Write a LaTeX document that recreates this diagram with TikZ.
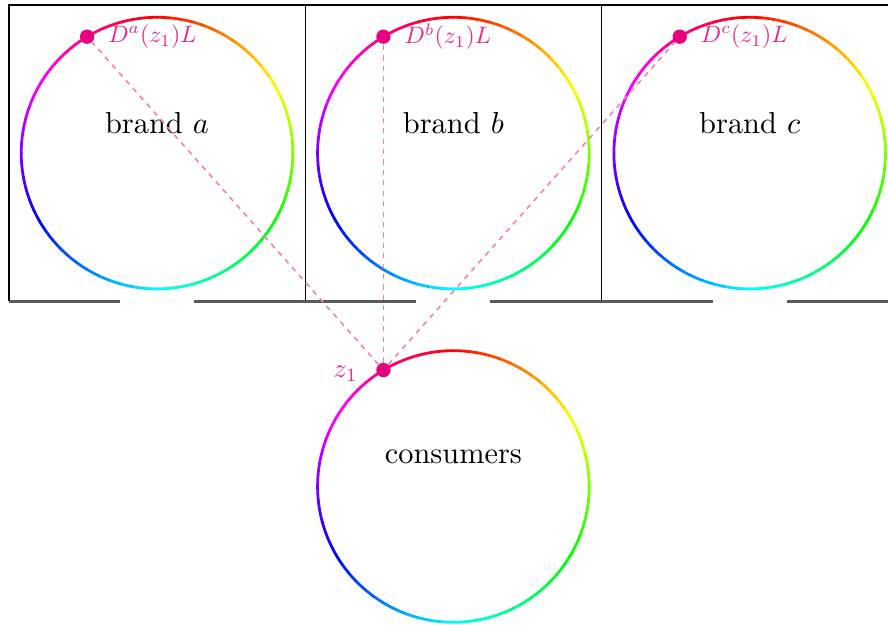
\documentclass[tikz,border=0pt]{standalone}
\usepackage{xcolor}
\usepackage{tikz}
\usetikzlibrary{positioning}
\definecolor{mkPink}{HTML}{E6007E}
\definecolor{mkLink}{HTML}{F27DBA}
\definecolor{mkWall}{HTML}{5A5A5A}
\tikzset{
  mk-dot/.style={circle, fill=mkPink, inner sep=0pt, minimum size=0.29cm},
  mk-tag/.style={text=mkPink!85!white, inner sep=1pt,
    scale=1.37, transform shape},
  mk-zed/.style={text=mkPink!85!white, inner sep=1pt,
    scale=1.55, transform shape},
  mk-title/.style={scale=1.75, transform shape},
  mk-link/.style={dashed, line width=0.9pt, draw=mkLink},
  mk-box/.style={draw=black, line width=0.8pt},
  mk-door/.style={draw=mkWall, line width=1.5pt},
}
% colour wheel drawn along a circle: hue 0 at the top, running clockwise
\newcommand{\huering}[2]{%
  \foreach \t in {0,5,...,355}{
    \pgfmathsetmacro{\h}{mod(447.5-\t,360)}
    \definecolor{rimcol}{Hsb}{\h,1,1}
    \draw[rimcol, line width=1.6pt, line cap=round, shift={(#1)}]
      (\t:#2) arc[start angle=\t, end angle=\t+5, radius=#2];
  }%
}

\begin{document}
\begin{tikzpicture}
  \clip (-0.18,-6.555) rectangle (17.8,6.1);

  % shops
  \draw[mk-box] (0,0) -- (0,6) -- (18,6) -- (18,0);
  \draw[mk-box] (6,0) -- (6,6);
  \draw[mk-box] (12,0) -- (12,6);
  \foreach \x in {0,6,12}{
    \draw[mk-door] (\x,0) -- (\x+2.25,0);
    \draw[mk-door] (\x+3.75,0) -- (\x+6,0);
  }

  % circles
  \coordinate (ca) at (3,3);
  \coordinate (cb) at (9,3);
  \coordinate (cc) at (15,3);
  \coordinate (cz) at (9,-3.75);
  \huering{ca}{2.75}
  \huering{cb}{2.75}
  \huering{cc}{2.75}
  \huering{cz}{2.75}

  \node[mk-title] (ta) at (3,3.6) {brand~$a$};
  \node[mk-title] (tb) at (9,3.6) {brand~$b$};
  \node[mk-title] (tc) at (15,3.6) {brand~$c$};
  \node[mk-title] (tz) at (9,-3.15) {consumers};

  % locations
  \path (ca) ++(121:2.75) node[mk-dot] (da) {};
  \path (cb) ++(121:2.75) node[mk-dot] (db) {};
  \path (cc) ++(121:2.75) node[mk-dot] (dc) {};
  \path (cz) ++(121:2.75) node[mk-dot] (z1) {};

  \node[mk-tag, right=0.22cm of da] (la) {$D^a(z_1)L$};
  \node[mk-tag, right=0.22cm of db] (lb) {$D^b(z_1)L$};
  \node[mk-tag, right=0.22cm of dc] (lc) {$D^c(z_1)L$};
  \node[mk-zed, left=0.3cm of z1, yshift=-0.05cm] (lz) {$z_1$};

  \draw[mk-link] (z1) -- (da);
  \draw[mk-link] (z1) -- (db);
  \draw[mk-link] (z1) -- (dc);
\end{tikzpicture}
\end{document}
